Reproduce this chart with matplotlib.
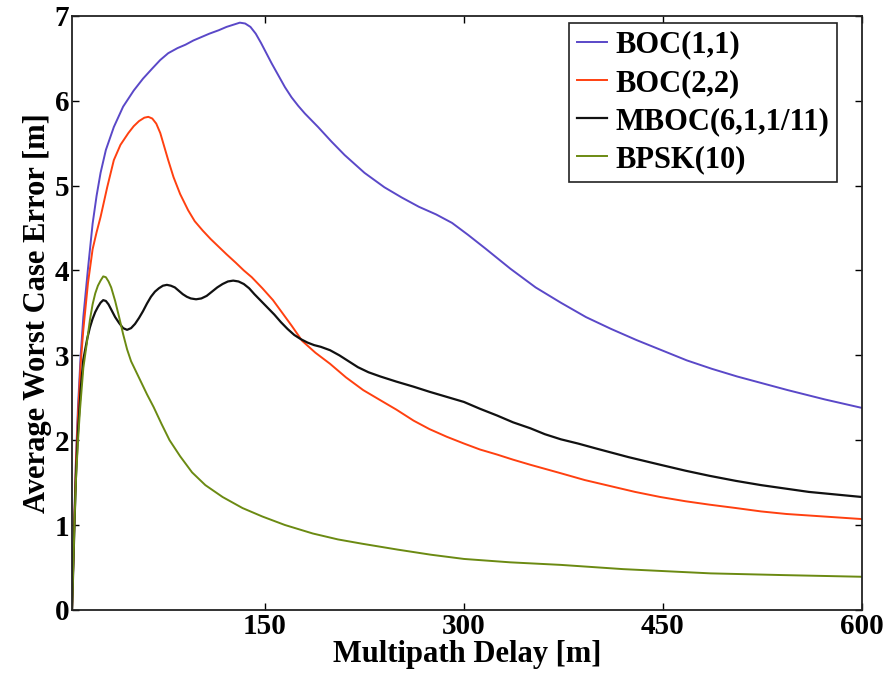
import matplotlib
matplotlib.use("Agg")
import matplotlib.pyplot as plt

plt.rcParams['font.family'] = ['Liberation Serif', 'DejaVu Serif']
plt.rcParams['font.weight'] = 'bold'

# BOC(1,1)
boc11_x = [4.5, 5.5, 6.5, 7.5, 9, 11, 13, 16.5, 20, 23, 26, 30, 36, 43, 51, 58, 65, 71, 77,
           84, 90, 96, 102, 108, 115, 121, 127, 131, 135, 139, 143, 147, 151, 155, 160, 165,
           170, 175, 180, 190, 200, 210, 225, 240, 253, 266, 279, 291, 303, 316, 335, 354,
           373, 392, 411, 430, 449, 468, 487, 506, 525, 544, 572, 600]
boc11_y = [0, 0.6, 1.25, 1.8, 2.4, 3.0, 3.45, 4.02, 4.55, 4.88, 5.15, 5.42, 5.69, 5.93, 6.12,
           6.26, 6.38, 6.48, 6.56, 6.62, 6.66, 6.71, 6.75, 6.79, 6.83, 6.87, 6.9, 6.92, 6.91,
           6.87, 6.79, 6.68, 6.56, 6.44, 6.3, 6.16, 6.04, 5.94, 5.85, 5.69, 5.52, 5.36, 5.15,
           4.98, 4.86, 4.75, 4.66, 4.56, 4.42, 4.26, 4.02, 3.8, 3.62, 3.45, 3.31, 3.18, 3.06,
           2.94, 2.84, 2.75, 2.67, 2.59, 2.48, 2.38]

# BOC(2,2)
boc22_x = [4.5, 5.5, 6.5, 7.5, 9, 11, 13, 16.5, 20, 23, 26, 31, 36, 41, 47, 51, 55, 59, 62,
           65, 68, 71, 74, 77, 81, 86, 92, 97, 103, 109, 115, 121, 128, 134, 140, 148, 156,
           163, 170, 178, 188, 199, 211, 224, 237, 249, 262, 274, 287, 300, 312, 325, 337,
           350, 373, 391, 410, 429, 448, 467, 485, 505, 524, 543, 562, 581, 600]
boc22_y = [0, 0.6, 1.2, 1.75, 2.3, 2.9, 3.3, 3.85, 4.25, 4.45, 4.63, 4.98, 5.3, 5.48, 5.62,
           5.7, 5.76, 5.8, 5.81, 5.79, 5.73, 5.62, 5.46, 5.3, 5.1, 4.9, 4.71, 4.58, 4.47,
           4.37, 4.28, 4.19, 4.09, 4.0, 3.92, 3.79, 3.65, 3.5, 3.35, 3.17, 3.03, 2.9, 2.74,
           2.59, 2.47, 2.36, 2.23, 2.13, 2.04, 1.96, 1.89, 1.83, 1.77, 1.71, 1.61, 1.53,
           1.46, 1.39, 1.33, 1.28, 1.24, 1.2, 1.16, 1.13, 1.11, 1.09, 1.07]

# MBOC(6,1,1/11)
mboc_x = [4.5, 5.5, 6.5, 7.5, 9, 11, 13, 16, 18, 20, 22, 24, 26, 28, 30, 32, 34, 37, 40, 43,
          46, 49, 52, 55, 58, 61, 64, 67, 70, 73, 76, 79, 82, 85, 88, 91, 94, 98, 102, 106,
          110, 114, 118, 122, 126, 130, 134, 138, 142, 147, 152, 157, 162, 167, 172, 177,
          182, 187, 192, 199, 206, 213, 220, 228, 237, 249, 262, 274, 287, 300, 312, 325,
          337, 350, 361, 373, 386, 400, 424, 448, 467, 485, 505, 524, 542, 560, 580, 600]
mboc_y = [0, 0.55, 1.1, 1.6, 2.1, 2.6, 2.95, 3.2, 3.33, 3.43, 3.51, 3.57, 3.62, 3.65, 3.64,
          3.6, 3.54, 3.45, 3.38, 3.32, 3.3, 3.32, 3.37, 3.44, 3.52, 3.61, 3.69, 3.75, 3.79,
          3.82, 3.83, 3.82, 3.8, 3.76, 3.72, 3.69, 3.67, 3.66, 3.67, 3.7, 3.75, 3.8, 3.84,
          3.87, 3.88, 3.87, 3.84, 3.79, 3.72, 3.64, 3.56, 3.48, 3.39, 3.31, 3.24, 3.19,
          3.15, 3.12, 3.1, 3.06, 3.0, 2.93, 2.86, 2.8, 2.75, 2.69, 2.63, 2.57, 2.51, 2.45,
          2.37, 2.29, 2.21, 2.14, 2.07, 2.01, 1.96, 1.9, 1.8, 1.71, 1.64, 1.58, 1.52, 1.47,
          1.43, 1.39, 1.36, 1.33]

# BPSK(10)
bpsk_x = [4.5, 5.5, 6.5, 7.5, 9, 10.5, 13, 15.6, 18, 20, 22, 24, 26, 28, 30, 32, 34, 37, 40,
          43, 46, 49, 53, 57, 61, 66, 72, 78, 86, 95, 105, 118, 133, 148, 165, 186, 205,
          223, 250, 275, 300, 335, 373, 420, 486, 540, 600]
bpsk_y = [0, 0.55, 1.1, 1.55, 2.0, 2.36, 2.85, 3.14, 3.42, 3.6, 3.73, 3.82, 3.88, 3.93,
          3.92, 3.87, 3.8, 3.64, 3.45, 3.25, 3.07, 2.93, 2.8, 2.67, 2.54, 2.39, 2.19, 2.0,
          1.81, 1.62, 1.47, 1.33, 1.2, 1.1, 1.0, 0.9, 0.83, 0.78, 0.71, 0.65, 0.6, 0.56,
          0.53, 0.48, 0.43, 0.41, 0.39]

x_ticks = [150, 300, 450, 600]
y_ticks = [0, 1, 2, 3, 4, 5, 6, 7]

fig = plt.figure(figsize=(8.95, 6.75), dpi=100)
ax = fig.add_axes([0.0805, 0.0965, 0.8825, 0.88])

ax.plot(boc11_x, boc11_y, color='#5a48c8', lw=1.4, label='BOC(1,1)')
ax.plot(boc22_x, boc22_y, color='#ff4010', lw=1.4, label='BOC(2,2)')
ax.plot(mboc_x, mboc_y, color='#111111', lw=1.6, label='MBOC(6,1,1/11)')
ax.plot(bpsk_x, bpsk_y, color='#6b8a12', lw=1.4, label='BPSK(10)')

ax.set_xlim(4.5, 600)
ax.set_ylim(0, 7)
ax.set_xticks(x_ticks)
ax.set_yticks(y_ticks)
ax.tick_params(direction='in', top=True, right=True, length=5, width=1,
               labelsize=21, pad=2)
for s in ax.spines.values():
    s.set_linewidth(1.3)
    s.set_color('#222222')

ax.set_xlabel('Multipath Delay [m]', fontsize=22, fontweight='bold', labelpad=0)
ax.set_ylabel('Average Worst Case Error [m]', fontsize=22, fontweight='bold', labelpad=2)

leg = ax.legend(loc='upper right', bbox_to_anchor=(0.968, 0.988), fontsize=22,
                frameon=True, fancybox=False, edgecolor='#222222', framealpha=1,
                handlelength=1.0, handletextpad=0.25, labelspacing=0.3,
                borderpad=0.25, borderaxespad=0)
leg.get_frame().set_linewidth(1.2)

fig.savefig('out.png', dpi=100)
